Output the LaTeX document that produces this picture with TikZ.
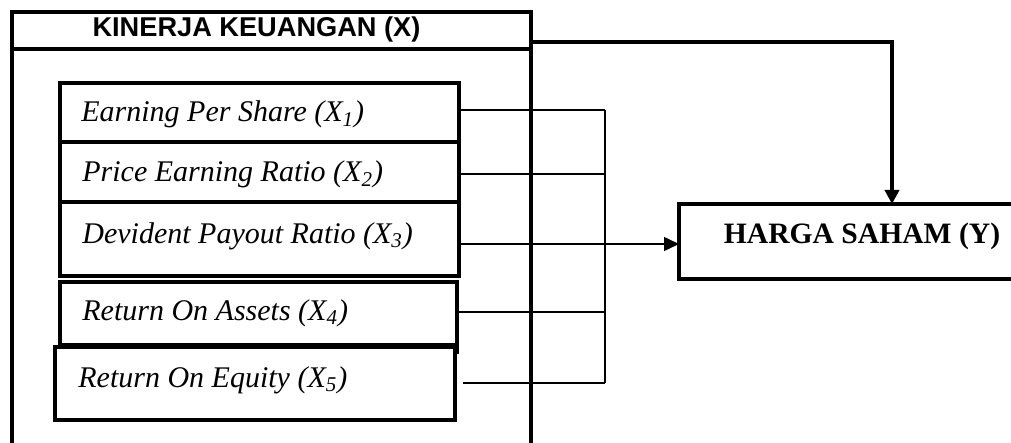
\documentclass[tikz,border=0pt]{standalone}
\usepackage{fontspec}
\setmainfont{Liberation Serif}
\newfontfamily\headfont{Liberation Sans}
\usetikzlibrary{arrows.meta}

\tikzset{
  frameline/.style={line width=2.3pt},
  ibox/.style={draw, line width=1.6pt, rectangle, inner sep=0pt, outer sep=0pt, anchor=north west},
  ilabel/.style={anchor=base west, inner sep=0pt, font=\fontsize{15}{18}\selectfont\itshape},
  link/.style={line width=0.7pt},
  bigarrow/.style={line width=2.3pt, -{Triangle[length=7pt,width=7pt]}},
  smallarrow/.style={line width=0.7pt, -{Triangle[length=7.5pt,width=7pt]}}
}

\begin{document}
\begin{tikzpicture}[x=0.5pt, y=-0.5pt]
\useasboundingbox (0,0) rectangle (1011,443);
\clip (0,0) rectangle (1011,443);

% outer frame, open towards the bottom
\node[draw, frameline, rectangle, inner sep=0pt, outer sep=0pt, anchor=north west,
      minimum width=259.5pt, minimum height=240pt] (kinerja) at (12,12) {};
\draw[frameline] (kinerja.north west |- 0,49) -- (kinerja.north east |- 0,49);
\node[anchor=base, inner sep=0pt, font=\headfont\bfseries\fontsize{13.6}{16}\selectfont]
  (head) at (256.5,37) {KINERJA KEUANGAN (X)};

% indicator boxes
\node[ibox, minimum width=199.5pt, minimum height=29.5pt] (b1) at (60,83) {};
\node[ibox, minimum width=199.5pt, minimum height=30pt]   (b2) at (60,142) {};
\node[ibox, minimum width=199.5pt, minimum height=37pt]   (b3) at (60,202) {};
\node[ibox, minimum width=198.5pt, minimum height=31.5pt] (b4) at (60,282) {};
\node[ibox, minimum width=200pt,   minimum height=36.5pt] (b5) at (55,347) {};
\draw[line width=1.6pt] (b4.south east) -- ++(0,9);

\node[ilabel] (t1) at (81,122) {Earning Per Share (X\textsubscript{1})};
\node[ilabel] (t2) at (82,182) {Price Earning Ratio (X\textsubscript{2})};
\node[ilabel] (t3) at (82,243) {Devident Payout Ratio (X\textsubscript{3})};
\node[ilabel] (t4) at (82,320) {Return On Assets (X\textsubscript{4})};
\node[ilabel] (t5) at (78,387) {Return On Equity (X\textsubscript{5})};

% dependent variable
\node[draw, line width=2pt, rectangle, inner sep=0pt, outer sep=0pt, anchor=north west,
      minimum width=181pt, minimum height=37.5pt] (harga) at (679,204) {};
\node[anchor=base, inner sep=0pt, font=\bfseries\fontsize{14.8}{17}\selectfont]
  (hlabel) at (862,243) {HARGA SAHAM (Y)};

% simultaneous effect of the frame
\coordinate (turn) at (892,42);
\draw[bigarrow] (kinerja.east |- turn) -- (turn) -- (turn |- harga.north);

% partial effects joined on a common bus
\coordinate (j1) at (605,110);
\coordinate (j2) at (605,174);
\coordinate (j3) at (605,244);
\coordinate (j4) at (605,312);
\coordinate (j5) at (605,383);
\draw[link] (b1.east |- j1) -- (j1);
\draw[link] (b2.east |- j2) -- (j2);
\draw[link] (b3.east |- j3) -- (j3);
\draw[link] (b4.east |- j4) -- (j4);
\draw[link] ([xshift=4pt]b5.east |- j5) -- (j5);
\draw[link] (j1) -- (j5);
\draw[smallarrow] (j3) -- (harga.west |- j3);
\end{tikzpicture}
\end{document}
